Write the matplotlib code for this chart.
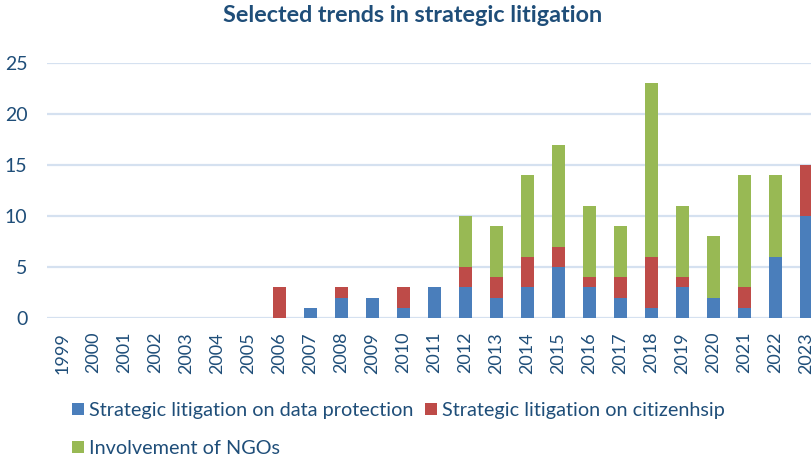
import matplotlib
matplotlib.use("Agg")
import matplotlib.pyplot as plt
import numpy as np

plt.rcParams["font.family"] = ["Lato", "DejaVu Sans"]

years = [str(y) for y in range(1999, 2024)]
data_protection = [0, 0, 0, 0, 0, 0, 0, 0, 1, 2, 2, 1, 3, 3, 2, 3, 5, 3, 2, 1, 3, 2, 1, 6, 10]
citizenship = [0, 0, 0, 0, 0, 0, 0, 3, 0, 1, 0, 2, 0, 2, 2, 3, 2, 1, 2, 5, 1, 0, 2, 0, 5]
ngos = [0, 0, 0, 0, 0, 0, 0, 0, 0, 0, 0, 0, 0, 5, 5, 8, 10, 7, 5, 17, 7, 6, 11, 8, 0]
labels = ["Strategic litigation on data protection",
          "Strategic litigation on citizenhsip",
          "Involvement of NGOs"]

text_color = "#1F4E79"
grid_color = "#D5E1F0"

fig = plt.figure(figsize=(8.11, 4.62), dpi=100)
ax = fig.add_axes([47 / 811, 1 - 318 / 462, 775 / 811, 255 / 462])

x = np.arange(len(years))
dp = np.array(data_protection)
ci = np.array(citizenship)
ng = np.array(ngos)
w = 0.42
b1 = ax.bar(x, dp, w, color="#4A7EBB", zorder=3)
b2 = ax.bar(x, ci, w, bottom=dp, color="#BE4B48", zorder=3)
b3 = ax.bar(x, ng, w, bottom=dp + ci, color="#98B954", zorder=3)

ax.set_xlim(-0.5, len(years) - 0.5)
ax.set_ylim(0, 25)
ax.set_yticks([0, 5, 10, 15, 20, 25])
ax.yaxis.grid(True, color=grid_color, linewidth=1.6, zorder=0)
ax.set_axisbelow(True)
for s in ax.spines.values():
    s.set_visible(False)
ax.set_xticks(x)
ax.set_xticklabels(years, rotation=90, fontsize=13, color=text_color)
ax.tick_params(axis="x", length=0, pad=10)
ax.tick_params(axis="y", length=0, pad=14, labelsize=14, labelcolor=text_color)

fig.text(413 / 811, 1 - 15 / 462, "Selected trends in strategic litigation",
         ha="center", va="center", fontsize=16.8, fontweight="bold", color=text_color)

fig.legend([b1, b3, b2], [labels[0], labels[2], labels[1]], ncol=2,
           loc="upper left", bbox_to_anchor=(72 / 811, 1 - 402 / 462),
           frameon=False, fontsize=14.3, labelcolor=text_color,
           handlelength=0.6, handleheight=0.6, handletextpad=0.25,
           columnspacing=0.6, labelspacing=1.05, borderaxespad=0, borderpad=0)

fig.savefig("out.png", dpi=100)
